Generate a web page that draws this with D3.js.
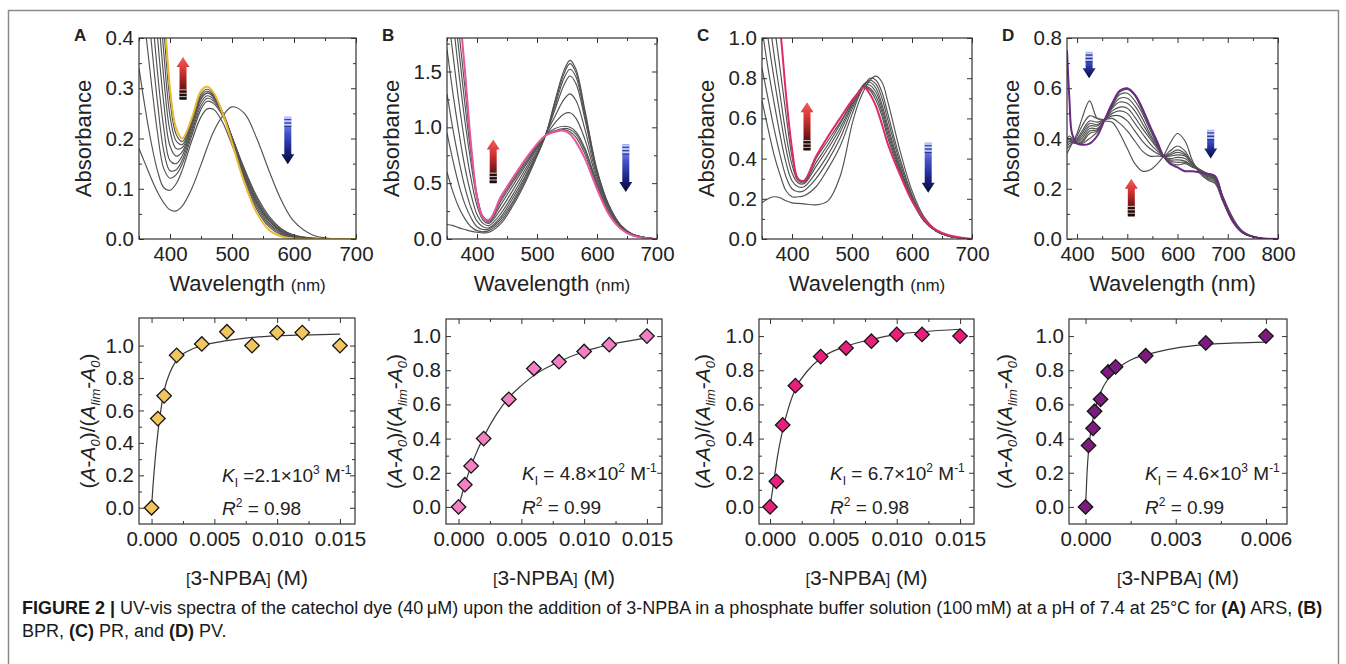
<!DOCTYPE html>
<html>
<head>
<meta charset="utf-8">
<script src="https://cdn.jsdelivr.net/npm/d3@7"></script>
<style>
  body { margin: 0; background: #fff; }
  svg { font-family: "Liberation Sans", Arial, sans-serif; }
</style>
</head>
<body>
<svg id="fig" width="1346" height="664"></svg>
<script>
// ---- top row: UV-vis spectra (gray = titration steps, last = final colored curve) ----
const wlA = [350,360,370,380,390,400,410,420,435,450,460,470,485,500,520,540,560,580,600,630,660,700];
const specA = [
  [.180,.150,.120,.093,.072,.058,.056,.066,.100,.148,.182,.213,.245,.263,.250,.200,.135,.076,.035,.008,.001,0],
  [.340,.260,.190,.135,.102,.097,.110,.138,.195,.243,.259,.258,.232,.187,.124,.072,.036,.015,.005,.001,0,0],
  [.55,.42,.31,.21,.140,.121,.128,.150,.205,.258,.274,.270,.245,.202,.140,.085,.045,.020,.008,.002,0,0],
  [.65,.52,.39,.27,.175,.136,.138,.158,.212,.265,.280,.275,.248,.203,.138,.081,.041,.018,.007,.002,0,0],
  [.78,.62,.47,.33,.22,.156,.150,.166,.218,.272,.285,.279,.250,.203,.135,.077,.038,.016,.006,.001,0,0],
  [.90,.73,.56,.40,.27,.185,.165,.174,.224,.278,.290,.283,.252,.203,.132,.073,.035,.014,.005,.001,0,0],
  [1.00,.82,.64,.47,.32,.215,.180,.182,.229,.281,.291,.284,.252,.201,.128,.069,.031,.012,.004,.001,0,0],
  [1.10,.90,.72,.54,.37,.245,.195,.188,.233,.285,.294,.286,.252,.199,.124,.064,.028,.010,.003,0,0,0],
  [1.20,.98,.79,.60,.42,.275,.208,.194,.236,.289,.298,.289,.252,.196,.119,.059,.024,.008,.002,0,0,0],
  [1.30,1.05,.86,.66,.47,.300,.220,.200,.240,.295,.303,.292,.250,.192,.112,.052,.018,.005,.001,0,0,0]
];

const wlB = [350,360,370,380,390,400,410,420,440,460,480,500,515,530,545,555,565,580,600,620,640,660,700];
const specB = [
  [.13,.12,.10,.085,.07,.06,.055,.06,.14,.30,.50,.74,.94,1.24,1.51,1.60,1.52,1.15,.62,.30,.12,.04,0],
  [.60,.42,.28,.18,.11,.075,.065,.075,.16,.32,.52,.75,.94,1.22,1.48,1.57,1.49,1.13,.61,.30,.12,.04,0],
  [.95,.70,.48,.31,.19,.11,.085,.09,.18,.34,.54,.76,.94,1.19,1.44,1.52,1.45,1.10,.60,.29,.12,.04,0],
  [1.30,.98,.70,.46,.28,.16,.11,.10,.20,.37,.56,.77,.94,1.16,1.38,1.46,1.39,1.07,.59,.29,.12,.04,0],
  [1.70,1.30,.95,.64,.40,.22,.14,.12,.23,.40,.59,.79,.94,1.10,1.25,1.30,1.24,.98,.56,.28,.11,.04,0],
  [2.10,1.65,1.22,.85,.54,.30,.17,.14,.27,.44,.62,.81,.93,1.04,1.12,1.13,1.08,.89,.53,.27,.11,.04,0],
  [2.40,1.95,1.48,1.05,.68,.36,.19,.15,.31,.48,.65,.82,.93,.99,1.01,1.00,.96,.81,.50,.25,.10,.035,0],
  [2.60,2.15,1.68,1.20,.76,.39,.20,.16,.34,.51,.67,.83,.93,.97,.99,.98,.94,.79,.49,.24,.10,.035,0],
  [2.80,2.35,1.85,1.35,.82,.39,.20,.17,.36,.53,.69,.84,.93,.96,.98,.96,.91,.76,.47,.23,.095,.03,0],
  [3.00,2.60,2.10,1.50,.85,.38,.19,.17,.38,.55,.71,.85,.93,.96,.97,.94,.87,.72,.45,.22,.09,.03,0]
];

const wlC = [350,360,370,380,390,400,410,420,440,460,480,500,510,520,530,540,550,560,580,600,620,640,660,700];
const specC = [
  [.18,.20,.21,.205,.19,.18,.177,.175,.17,.19,.31,.57,.67,.74,.79,.81,.78,.68,.44,.24,.11,.045,.015,0],
  [.69,.55,.42,.32,.24,.21,.21,.215,.26,.35,.46,.62,.70,.76,.80,.79,.73,.62,.40,.22,.10,.04,.015,0],
  [.85,.70,.55,.42,.31,.25,.235,.24,.30,.39,.50,.645,.71,.77,.79,.77,.70,.59,.38,.21,.10,.04,.015,0],
  [1.05,.85,.68,.52,.38,.29,.26,.26,.33,.42,.53,.66,.72,.77,.78,.75,.67,.56,.36,.20,.095,.04,.015,0],
  [1.25,1.0,.80,.62,.45,.33,.28,.275,.36,.45,.55,.67,.73,.765,.765,.73,.65,.54,.35,.20,.09,.04,.015,0],
  [1.45,1.15,.92,.72,.52,.37,.29,.28,.38,.47,.57,.68,.73,.76,.75,.71,.63,.52,.34,.19,.09,.04,.015,0],
  [1.70,1.35,1.08,.85,.62,.41,.30,.285,.40,.49,.58,.68,.72,.755,.74,.69,.61,.50,.33,.19,.09,.04,.015,0],
  [2.00,1.60,1.25,1.05,.72,.45,.30,.29,.41,.51,.60,.69,.725,.755,.72,.66,.57,.47,.32,.19,.10,.045,.02,0]
];

const wlD = [380,385,390,400,410,425,440,455,470,485,500,515,530,545,560,572,585,600,615,630,645,660,675,690,710,730,760,800];
const specD = [
  [.34,.36,.38,.42,.48,.55,.48,.47,.465,.42,.36,.30,.27,.275,.30,.33,.38,.42,.39,.31,.26,.235,.22,.15,.07,.025,.005,0],
  [.36,.37,.38,.41,.45,.49,.48,.475,.48,.46,.43,.39,.35,.33,.33,.33,.35,.37,.35,.30,.265,.24,.225,.155,.07,.025,.005,0],
  [.37,.38,.385,.40,.43,.47,.465,.475,.49,.49,.47,.43,.39,.36,.34,.33,.34,.355,.34,.30,.27,.245,.23,.16,.075,.025,.005,0],
  [.38,.39,.39,.395,.42,.46,.455,.475,.50,.51,.50,.46,.42,.38,.35,.33,.335,.345,.335,.30,.27,.25,.235,.16,.075,.025,.005,0],
  [.38,.39,.385,.39,.41,.45,.45,.475,.51,.525,.52,.485,.44,.40,.36,.33,.33,.335,.33,.30,.275,.25,.24,.165,.075,.025,.005,0],
  [.39,.40,.385,.385,.40,.44,.44,.475,.52,.545,.54,.51,.46,.41,.365,.33,.32,.325,.32,.295,.275,.255,.24,.165,.08,.025,.005,0],
  [.39,.40,.385,.38,.39,.43,.435,.475,.525,.56,.56,.53,.48,.42,.37,.33,.315,.315,.31,.29,.275,.255,.245,.17,.08,.025,.005,0],
  [.40,.40,.39,.38,.385,.42,.43,.475,.53,.575,.58,.55,.50,.435,.375,.33,.31,.305,.305,.29,.275,.26,.245,.17,.08,.03,.005,0],
  [.40,.41,.40,.38,.38,.40,.425,.475,.535,.585,.595,.57,.51,.445,.38,.33,.305,.295,.30,.285,.275,.26,.25,.17,.085,.03,.005,0],
  [.75,.55,.42,.38,.375,.38,.41,.475,.54,.59,.60,.575,.52,.45,.385,.33,.30,.285,.27,.27,.265,.26,.25,.16,.07,.025,.005,0]
];

// ---- bottom row: normalized absorbance change vs [3-NPBA] ----
const concA = [0,0.0005,0.001,0.002,0.004,0.006,0.008,0.010,0.012,0.015];
const ratioA = [0,0.55,0.69,0.94,1.01,1.085,1.00,1.08,1.08,1.00];
const fitXA = [0,0.0001,0.0002,0.0003,0.0005,0.0007,0.001,0.0015,0.002,0.003,0.004,0.006,0.008,0.010,0.012,0.015];
const fitYA = [0,0.12,0.22,0.31,0.46,0.58,0.72,0.84,0.91,0.97,1.0,1.03,1.05,1.06,1.065,1.07];

const concB = [0,0.0005,0.001,0.002,0.004,0.006,0.008,0.010,0.012,0.015];
const ratioB = [0,0.13,0.24,0.40,0.63,0.81,0.85,0.91,0.95,1.0];
const fitXB = [0,0.0005,0.001,0.0015,0.002,0.003,0.004,0.005,0.006,0.008,0.010,0.012,0.015];
const fitYB = [0,0.13,0.24,0.33,0.41,0.54,0.64,0.71,0.77,0.85,0.91,0.95,0.99];

const concC = [0,0.0005,0.001,0.002,0.004,0.006,0.008,0.010,0.012,0.015];
const ratioC = [0,0.15,0.48,0.71,0.88,0.93,0.97,1.01,1.01,1.0];
const fitXC = [0,0.0002,0.0004,0.0006,0.0008,0.001,0.0015,0.002,0.003,0.004,0.006,0.008,0.010,0.012,0.015];
const fitYC = [0,0.1,0.2,0.3,0.38,0.45,0.59,0.69,0.80,0.87,0.94,0.98,1.01,1.025,1.04];

const concD = [0,0.0001,0.00025,0.0003,0.0005,0.00075,0.001,0.002,0.004,0.006];
const ratioD = [0,0.36,0.46,0.56,0.63,0.79,0.82,0.885,0.96,1.0];
const fitXD = [0,0.00005,0.0001,0.0002,0.0003,0.0005,0.00075,0.001,0.0015,0.002,0.003,0.004,0.005,0.006];
const fitYD = [0,0.2,0.33,0.47,0.56,0.67,0.75,0.80,0.86,0.89,0.93,0.95,0.96,0.965];

const kValues = ["=2.1×10", "= 4.8×10", "= 6.7×10", "= 4.6×10"];
const kExps = ["3", "2", "2", "3"];
const r2Values = ["0.98", "0.99", "0.98", "0.99"];

// arrows: [panel, wavelength, from absorbance, to absorbance]
const arrows = [
  [0, 421, 0.277, 0.362], [0, 590, 0.244, 0.149],
  [1, 427, 0.50, 0.89], [1, 648, 0.85, 0.42],
  [2, 425, 0.44, 0.68], [2, 627, 0.48, 0.23],
  [3, 424, 0.745, 0.64], [3, 666, 0.435, 0.32], [3, 508, 0.09, 0.24]
];

const panels = [
  { id: "A", wl: wlA, spec: specA, xDom: [350, 700], yDom: [0, 0.4],
    xTicks: [400, 500, 600, 700], xMinor: [350, 450, 550, 650],
    yTicks: [0, 0.1, 0.2, 0.3, 0.4], yMinor: [0.05, 0.15, 0.25, 0.35],
    box: [139, 38, 356, 239], hl: "#e9b935",
    conc: concA, ratio: ratioA, fitX: fitXA, fitY: fitYA,
    cDom: [-0.001, 0.0162], cTicks: [0, 0.005, 0.010, 0.015], cMinor: [0.0025, 0.0075, 0.0125],
    rDom: [-0.1, 1.17], box2: [139, 318, 355, 524], fill: "#f2c65e",
    kOff: 83, ylabOff: 51, small: true },
  { id: "B", wl: wlB, spec: specB, xDom: [350, 700], yDom: [0, 1.8],
    xTicks: [400, 500, 600, 700], xMinor: [350, 450, 550, 650],
    yTicks: [0, 0.5, 1.0, 1.5], yMinor: [0.25, 0.75, 1.25, 1.75],
    box: [447, 38, 657, 239], hl: "#e8559d",
    conc: concB, ratio: ratioB, fitX: fitXB, fitY: fitYB,
    cDom: [-0.001, 0.0162], cTicks: [0, 0.005, 0.010, 0.015], cMinor: [0.0025, 0.0075, 0.0125],
    rDom: [-0.1, 1.1], box2: [446, 319, 662, 524], fill: "#f47fc2",
    kOff: 76, ylabOff: 51, small: true },
  { id: "C", wl: wlC, spec: specC, xDom: [350, 700], yDom: [0, 1.0],
    xTicks: [400, 500, 600, 700], xMinor: [350, 450, 550, 650],
    yTicks: [0, 0.2, 0.4, 0.6, 0.8, 1.0], yMinor: [0.1, 0.3, 0.5, 0.7, 0.9],
    box: [762, 38, 972, 239], hl: "#e0286c",
    conc: concC, ratio: ratioC, fitX: fitXC, fitY: fitYC,
    cDom: [-0.00087, 0.0161], cTicks: [0, 0.005, 0.010, 0.015], cMinor: [0.0025, 0.0075, 0.0125],
    rDom: [-0.1, 1.1], box2: [759, 319, 974, 524], fill: "#e8207c",
    kOff: 71, ylabOff: 56, small: true },
  { id: "D", wl: wlD, spec: specD, xDom: [380, 800], yDom: [0, 0.8],
    xTicks: [400, 500, 600, 700, 800], xMinor: [450, 550, 650, 750],
    yTicks: [0, 0.2, 0.4, 0.6, 0.8], yMinor: [0.1, 0.3, 0.5, 0.7],
    box: [1067, 38, 1278, 239], hl: "#6b2a82",
    conc: concD, ratio: ratioD, fitX: fitXD, fitY: fitYD,
    cDom: [-0.00055, 0.0067], cTicks: [0, 0.003, 0.006], cMinor: [0.0015, 0.0045],
    rDom: [-0.1, 1.1], box2: [1069, 319, 1287, 524], fill: "#7c1a80",
    kOff: 76, ylabOff: 64, small: false }
];

const ink = "#222";
const svg = d3.select("#fig");
const defs = svg.append("defs");

// outer frame of the figure
svg.append("rect").attr("x", 8.5).attr("y", 10.5).attr("width", 1330).attr("height", 700)
  .attr("fill", "none").attr("stroke", "#8a8a8a").attr("stroke-width", 1.5);

// arrow gradients
const redGrad = defs.append("linearGradient").attr("id", "redGrad").attr("x1", 0).attr("y1", 0).attr("x2", 0).attr("y2", 1);
[[0, "#f45c5c"], [0.35, "#d03232"], [0.75, "#6a1414"], [1, "#2a0606"]]
  .forEach(([o, c]) => redGrad.append("stop").attr("offset", o).attr("stop-color", c));
const blueGrad = defs.append("linearGradient").attr("id", "blueGrad").attr("x1", 0).attr("y1", 0).attr("x2", 0).attr("y2", 1);
[[0, "#9aa6ee"], [0.35, "#4454cc"], [0.7, "#1c2486"], [1, "#0a0a34"]]
  .forEach(([o, c]) => blueGrad.append("stop").attr("offset", o).attr("stop-color", c));

function styleAxis(sel) {
  sel.select(".domain").remove();
  sel.attr("font-size", 20.5).attr("font-family", null);
  sel.selectAll("line").attr("stroke", "#333");
  sel.selectAll("text").attr("fill", ink);
}

function drawAxes(g, x, y, xTicks, xMinor, yTicks, yMinor, xFmt, yFmt) {
  const [l, r] = x.range();
  const [b, t] = y.range();
  g.append("g").attr("transform", `translate(0,${b})`)
    .call(d3.axisBottom(x).tickValues(xTicks).tickSize(-5).tickPadding(7).tickFormat(xFmt)).call(styleAxis);
  g.append("g").attr("transform", `translate(0,${b})`)
    .call(d3.axisBottom(x).tickValues(xMinor).tickSize(-3).tickFormat("")).call(styleAxis);
  g.append("g").attr("transform", `translate(0,${t})`)
    .call(d3.axisTop(x).tickValues(xTicks).tickSize(-5).tickFormat("")).call(styleAxis);
  g.append("g").attr("transform", `translate(0,${t})`)
    .call(d3.axisTop(x).tickValues(xMinor).tickSize(-3).tickFormat("")).call(styleAxis);
  g.append("g").attr("transform", `translate(${l},0)`)
    .call(d3.axisLeft(y).tickValues(yTicks).tickSize(-5).tickPadding(5).tickFormat(yFmt)).call(styleAxis);
  g.append("g").attr("transform", `translate(${l},0)`)
    .call(d3.axisLeft(y).tickValues(yMinor).tickSize(-3).tickFormat("")).call(styleAxis);
  g.append("g").attr("transform", `translate(${r},0)`)
    .call(d3.axisRight(y).tickValues(yTicks).tickSize(-5).tickFormat("")).call(styleAxis);
  g.append("g").attr("transform", `translate(${r},0)`)
    .call(d3.axisRight(y).tickValues(yMinor).tickSize(-3).tickFormat("")).call(styleAxis);
  g.append("rect").attr("x", l).attr("y", t).attr("width", r - l).attr("height", b - t)
    .attr("fill", "none").attr("stroke", "#333").attr("stroke-width", 1.2);
}

function drawArrow(g, cx, yFrom, yTo) {
  const up = yTo < yFrom;
  const hw = 6.5, sw = 3.5, hh = 10, s = up ? 1 : -1;
  const path = d3.path();
  path.moveTo(cx, yTo);
  path.lineTo(cx + hw, yTo + s * hh);
  path.lineTo(cx + sw, yTo + s * hh);
  path.lineTo(cx + sw, yFrom);
  path.lineTo(cx - sw, yFrom);
  path.lineTo(cx - sw, yTo + s * hh);
  path.lineTo(cx - hw, yTo + s * hh);
  path.closePath();
  g.append("path").attr("d", path.toString()).attr("fill", up ? "url(#redGrad)" : "url(#blueGrad)");
  // striped tail
  d3.range(3).forEach(i => {
    const yy = yFrom - s * (1.5 + i * 3.4);
    g.append("line").attr("x1", cx - sw).attr("x2", cx + sw).attr("y1", yy).attr("y2", yy)
      .attr("stroke", up ? "#111" : "#c8d0ff").attr("stroke-width", 1.5);
    g.append("line").attr("x1", cx - sw).attr("x2", cx + sw).attr("y1", yy - s * 1.7).attr("y2", yy - s * 1.7)
      .attr("stroke", up ? "#e8e8e8" : "#1a2280").attr("stroke-width", 0.8);
  });
}

const scales = [];

panels.forEach((p, pi) => {
  // ---------- spectra ----------
  const [l, t, r, b] = p.box;
  const x = d3.scaleLinear().domain(p.xDom).range([l, r]);
  const y = d3.scaleLinear().domain(p.yDom).range([b, t]);
  scales.push({ x, y });
  const g = svg.append("g");

  defs.append("clipPath").attr("id", "clip" + p.id)
    .append("rect").attr("x", l).attr("y", t).attr("width", r - l).attr("height", b - t);

  const line = d3.line()
    .x((d, i) => x(p.wl[i]))
    .y(d => y(d))
    .curve(d3.curveCatmullRom.alpha(0.5));

  const cg = g.append("g").attr("clip-path", `url(#clip${p.id})`);
  cg.selectAll("path.spec")
    .data(p.spec)
    .join("path")
    .attr("class", "spec")
    .attr("d", line)
    .attr("fill", "none")
    .attr("stroke", (d, i) => i === p.spec.length - 1 ? p.hl : "#525252")
    .attr("stroke-width", (d, i) => i === p.spec.length - 1 ? 2 : 1.15);

  drawAxes(g, x, y, p.xTicks, p.xMinor, p.yTicks, p.yMinor, d3.format("d"), d3.format(".1f"));

  g.append("text").attr("x", l - 65).attr("y", 41)
    .attr("font-size", 17).attr("font-weight", "bold").attr("fill", ink).text(p.id);

  g.append("text")
    .attr("transform", `translate(${l - 56},${(t + b) / 2}) rotate(-90)`)
    .attr("text-anchor", "middle").attr("dy", "0.35em")
    .attr("font-size", 22).attr("fill", ink).text("Absorbance");

  const xt = g.append("text").attr("x", (l + r) / 2).attr("y", b + 52)
    .attr("text-anchor", "middle").attr("font-size", 22).attr("fill", ink);
  xt.append("tspan").text("Wavelength ");
  xt.append("tspan").attr("font-size", p.small ? 17 : 22).text("(nm)");

  // ---------- binding isotherm ----------
  const [l2, t2, r2, b2] = p.box2;
  const xb = d3.scaleLinear().domain(p.cDom).range([l2, r2]);
  const yb = d3.scaleLinear().domain(p.rDom).range([b2, t2]);
  const g2 = svg.append("g");

  drawAxes(g2, xb, yb, p.cTicks, p.cMinor, [0, 0.2, 0.4, 0.6, 0.8, 1.0], [0.1, 0.3, 0.5, 0.7, 0.9],
    d3.format(".3f"), d3.format(".1f"));

  const fit = d3.line().x(d => xb(d[0])).y(d => yb(d[1])).curve(d3.curveMonotoneX);
  g2.append("path").attr("d", fit(d3.zip(p.fitX, p.fitY)))
    .attr("fill", "none").attr("stroke", "#3a3a3a").attr("stroke-width", 1.2);

  g2.selectAll("path.pt")
    .data(d3.zip(p.conc, p.ratio))
    .join("path")
    .attr("class", "pt")
    .attr("d", d3.symbol(d3.symbolSquare, 105)())
    .attr("transform", d => `translate(${xb(d[0])},${yb(d[1])}) rotate(45)`)
    .attr("fill", p.fill).attr("stroke", "#141414").attr("stroke-width", 1.3);

  // y title (A-A0)/(Alim-A0)
  const yt = g2.append("text")
    .attr("transform", `translate(${l2 - p.ylabOff},${(t2 + b2) / 2}) rotate(-90)`)
    .attr("text-anchor", "middle").attr("dy", "0.35em").attr("font-size", 21).attr("fill", ink);
  const parts = [["(", 0], ["A", 1], ["-", 0], ["A", 1], ["0", 2], [")/(", 3], ["A", 1], ["lim", 2], ["-", 3],
    ["A", 1], ["0", 2], [")", 3]];
  parts.forEach(([txt, kind]) => {
    const ts = yt.append("tspan").text(txt);
    if (kind === 1) ts.attr("font-style", "italic");
    if (kind === 2) ts.attr("font-style", "italic").attr("font-size", 13).attr("dy", 5);
    if (kind === 3) ts.attr("dy", -5);
  });

  const bt = g2.append("text").attr("x", (l2 + r2) / 2).attr("y", b2 + 61)
    .attr("text-anchor", "middle").attr("font-size", 21).attr("fill", ink);
  bt.append("tspan").attr("font-size", 16).text("[");
  bt.append("tspan").text("3-NPBA");
  bt.append("tspan").attr("font-size", 16).text("]");
  bt.append("tspan").text(" (M)");

  // K and R² annotation
  const kt = g2.append("text").attr("x", l2 + p.kOff).attr("y", yb(0.2) + 7)
    .attr("font-size", 19).attr("fill", ink);
  kt.append("tspan").attr("font-style", "italic").text("K");
  kt.append("tspan").attr("font-size", 12).attr("dy", 5).text("I");
  kt.append("tspan").attr("dy", -5).text(" " + kValues[pi]);
  kt.append("tspan").attr("font-size", 12).attr("dy", -8).text(kExps[pi]);
  kt.append("tspan").attr("dy", 8).text(" M");
  kt.append("tspan").attr("font-size", 12).attr("dy", -8).text("-1");

  const rt = g2.append("text").attr("x", l2 + p.kOff).attr("y", yb(0) + 7)
    .attr("font-size", 19).attr("fill", ink);
  rt.append("tspan").attr("font-style", "italic").text("R");
  rt.append("tspan").attr("font-size", 12).attr("dy", -8).text("2");
  rt.append("tspan").attr("dy", 8).text(" = " + r2Values[pi]);
});

// titration arrows on the spectra
arrows.forEach(([pi, wl, a0, a1]) => {
  const { x, y } = scales[pi];
  drawArrow(svg, x(wl), y(a0), y(a1));
});

// caption
const cap1 = svg.append("text").attr("x", 22).attr("y", 614).attr("font-size", 18).attr("fill", "#1a1a1a");
cap1.append("tspan").attr("font-weight", "bold").text("FIGURE 2 | ");
cap1.append("tspan").text("UV-vis spectra of the catechol dye (40\u2009\u03bcM) upon the addition of 3-NPBA in a phosphate buffer solution (100\u2009mM) at a pH of 7.4 at 25\u00b0C for ");
cap1.append("tspan").attr("font-weight", "bold").text("(A)");
cap1.append("tspan").text(" ARS, ");
cap1.append("tspan").attr("font-weight", "bold").text("(B)");

const cap2 = svg.append("text").attr("x", 22).attr("y", 637).attr("font-size", 18).attr("fill", "#1a1a1a");
cap2.append("tspan").text("BPR, ");
cap2.append("tspan").attr("font-weight", "bold").text("(C)");
cap2.append("tspan").text(" PR, and ");
cap2.append("tspan").attr("font-weight", "bold").text("(D)");
cap2.append("tspan").text(" PV.");
</script>
</body>
</html>
